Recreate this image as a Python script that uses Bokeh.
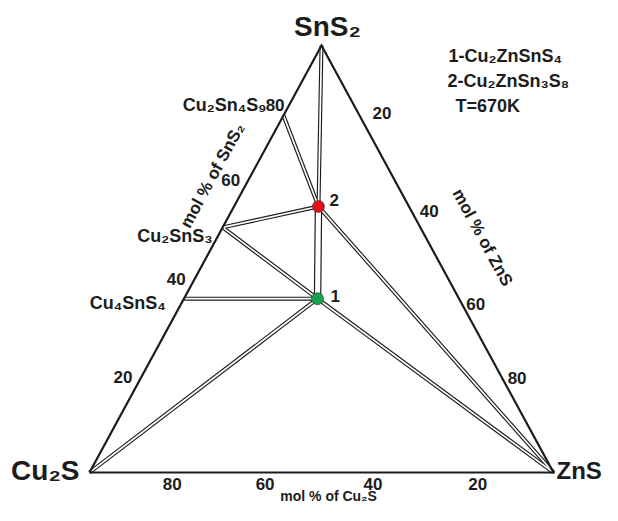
import numpy as np
from bokeh.plotting import figure
from bokeh.models import ColumnDataSource, Range1d
from bokeh.core.properties import value
from bokeh.embed import file_html
from bokeh.resources import INLINE

# ---------------- data (mol %, Cu2S / ZnS / SnS2) ----------------
phases   = ["Cu2S", "ZnS", "SnS2", "Cu4SnS4", "Cu2SnS3", "Cu2Sn4S9", "1", "2"]
cu2s_pct = [100.0, 0.0, 0.0, 59.3, 42.6, 16.4, 30.5, 19.5]
zns_pct  = [0.0, 100.0, 0.0, 0.0, 0.0, 0.0, 28.8, 18.2]
sns2_pct = [0.0, 0.0, 100.0, 40.7, 57.4, 83.6, 40.7, 62.3]

tie_start = ["SnS2", "2", "1", "1", "2", "Cu4SnS4", "Cu2SnS3", "Cu2SnS3", "Cu2Sn4S9"]
tie_end   = ["2",    "1", "Cu2S", "ZnS", "ZnS", "1",    "1",       "2",       "2"]

marked_points = ["1", "2"]
point_colors  = ["#16a34a", "#e3121b"]

tick_values = [20, 40, 60, 80]
tick_labels = ["20", "40", "60", "80"]

side_labels = {"Cu4SnS4": "Cu₄SnS₄", "Cu2SnS3": "Cu₂SnS₃", "Cu2Sn4S9": "Cu₂Sn₄S₉"}
vertex_labels = {"Cu2S": "Cu₂S", "ZnS": "ZnS", "SnS2": "SnS₂"}
legend_lines = ["1-Cu₂ZnSnS₄", "2-Cu₂ZnSn₃S₈", "T=670K"]
axis_titles = ["mol % of SnS₂", "mol % of ZnS", "mol % of Cu₂S"]

# ---------------- helpers ----------------
def tern(cu, zn, sn):
    tot = cu + zn + sn
    return (zn + 0.5 * sn) / tot, sn / tot

W, H = 602, 505
PX_X, PX_Y = 464.0, 427.0           # pixels per data unit
X0, Y0 = 89.0, 472.0                # pixel position of the Cu2S corner
def page(xp, yp):                   # layout helper for annotation texts
    return (xp - X0) / PX_X, (Y0 - yp) / PX_Y

XY = {n: tern(c, z, s) for n, c, z, s in zip(phases, cu2s_pct, zns_pct, sns2_pct)}

FONT = value("Liberation Sans")
INK = "#1c1c1c"

p = figure(width=W, height=H, output_backend="svg", toolbar_location=None,
           x_range=Range1d(-X0 / PX_X, (W - X0) / PX_X),
           y_range=Range1d((Y0 - H) / PX_Y, Y0 / PX_Y),
           x_axis_type=None, y_axis_type=None, min_border=0,
           outline_line_color=None, background_fill_color="white",
           border_fill_color="white")
p.grid.visible = False

# ---------------- tie lines (double lines) ----------------
xs = [[XY[a][0], XY[b][0]] for a, b in zip(tie_start, tie_end)]
ys = [[XY[a][1], XY[b][1]] for a, b in zip(tie_start, tie_end)]
wide = [(a == "2" and b == "1") for a, b in zip(tie_start, tie_end)]
outer = [7.5 if w else 4.0 for w in wide]
inner = [5.1 if w else 1.7 for w in wide]
src = ColumnDataSource(dict(xs=xs, ys=ys, ow=outer, iw=inner))
p.multi_line("xs", "ys", source=src, line_color=INK, line_width="ow")
p.multi_line("xs", "ys", source=src, line_color="white", line_width="iw")

# ---------------- triangle ----------------
tri = ["Cu2S", "ZnS", "SnS2", "Cu2S"]
p.line([XY[n][0] for n in tri], [XY[n][1] for n in tri], line_color=INK,
       line_width=2.2, line_join="miter")

# ---------------- points ----------------
px = [XY[n][0] for n in marked_points]
py = [XY[n][1] for n in marked_points]
p.scatter(px, py, size=12, fill_color=point_colors, line_color="#333333", line_width=0.6)
p.text(px, py, text=marked_points, x_offset=[13, 11], y_offset=[-3, -6],
       text_font=FONT, text_font_style="bold", text_font_size="17px",
       text_color=INK, text_baseline="middle", text_align="left")

# ---------------- compound labels on the Cu2S-SnS2 side ----------------
sl = list(side_labels.keys())
p.text([XY[n][0] for n in sl], [XY[n][1] for n in sl],
       text=[side_labels[n] for n in sl],
       x_offset=[-18, -10, -17], y_offset=[4, 9, -11],
       text_font=FONT, text_font_style="bold", text_font_size="18px",
       text_color=INK, text_baseline="middle", text_align="right")

# ---------------- vertex labels ----------------
vl = list(vertex_labels.keys())
p.text([XY[n][0] for n in vl], [XY[n][1] for n in vl],
       text=[vertex_labels[n] for n in vl],
       x_offset=[-10, 3, 6], y_offset=[-2, -2, -19],
       text_align=["right", "left", "center"],
       text_font=FONT, text_font_style="bold",
       text_font_size=["28px", "24px", "28px"],
       text_color=INK, text_baseline="middle")

# ---------------- tick labels ----------------
tx, ty, tt, txo, tyo = [], [], [], [], []
left_off = [(-13, -10), (-6, -23), (2, -36), (0, -26)]      # for 20, 40, 60, 80
right_off = [(14, -18), (15, -5), (15, 2), (10, -9)]
bottom_off = [(17, 11), (5, 11), (-10, 11), (-10, 11)]
for t, lab, lo in zip(tick_values, tick_labels, left_off):        # SnS2 %
    x, y = tern(100 - t, 0, t)
    tx.append(x); ty.append(y); tt.append(lab); txo.append(lo[0]); tyo.append(lo[1])
for t, lab, ro in zip(tick_values, tick_labels, right_off):       # ZnS %
    x, y = tern(0, t, 100 - t)
    tx.append(x); ty.append(y); tt.append(lab); txo.append(ro[0]); tyo.append(ro[1])
for t, lab, bo in zip(tick_values, tick_labels, bottom_off):      # Cu2S %
    x, y = tern(t, 100 - t, 0)
    tx.append(x); ty.append(y); tt.append(lab); txo.append(bo[0]); tyo.append(bo[1])
p.text(tx, ty, text=tt, x_offset=txo, y_offset=tyo,
       text_font=FONT, text_font_style="bold", text_font_size="17px",
       text_color=INK, text_align="center", text_baseline="middle")

# ---------------- axis titles ----------------
a1 = page(212, 175); a2 = page(482, 237); a3 = page(328, 495)
p.text([a1[0], a2[0], a3[0]], [a1[1], a2[1], a3[1]], text=axis_titles,
       angle=[61.6, -61.4, 0.0], angle_units="deg",
       text_font=FONT, text_font_style="bold",
       text_font_size=["17px", "17px", "14px"],
       text_color=INK, text_align="center", text_baseline="middle")

# ---------------- legend text ----------------
lx = [page(448, 0)[0], page(447, 0)[0], page(455, 0)[0]]
ly = [page(0, 55)[1], page(0, 80)[1], page(0, 105)[1]]
p.text(lx, ly, text=legend_lines, text_font=FONT, text_font_style="bold",
       text_font_size="18px", text_color=INK, text_align="left", text_baseline="middle")

open("out.html", "w").write(file_html(p, INLINE))
